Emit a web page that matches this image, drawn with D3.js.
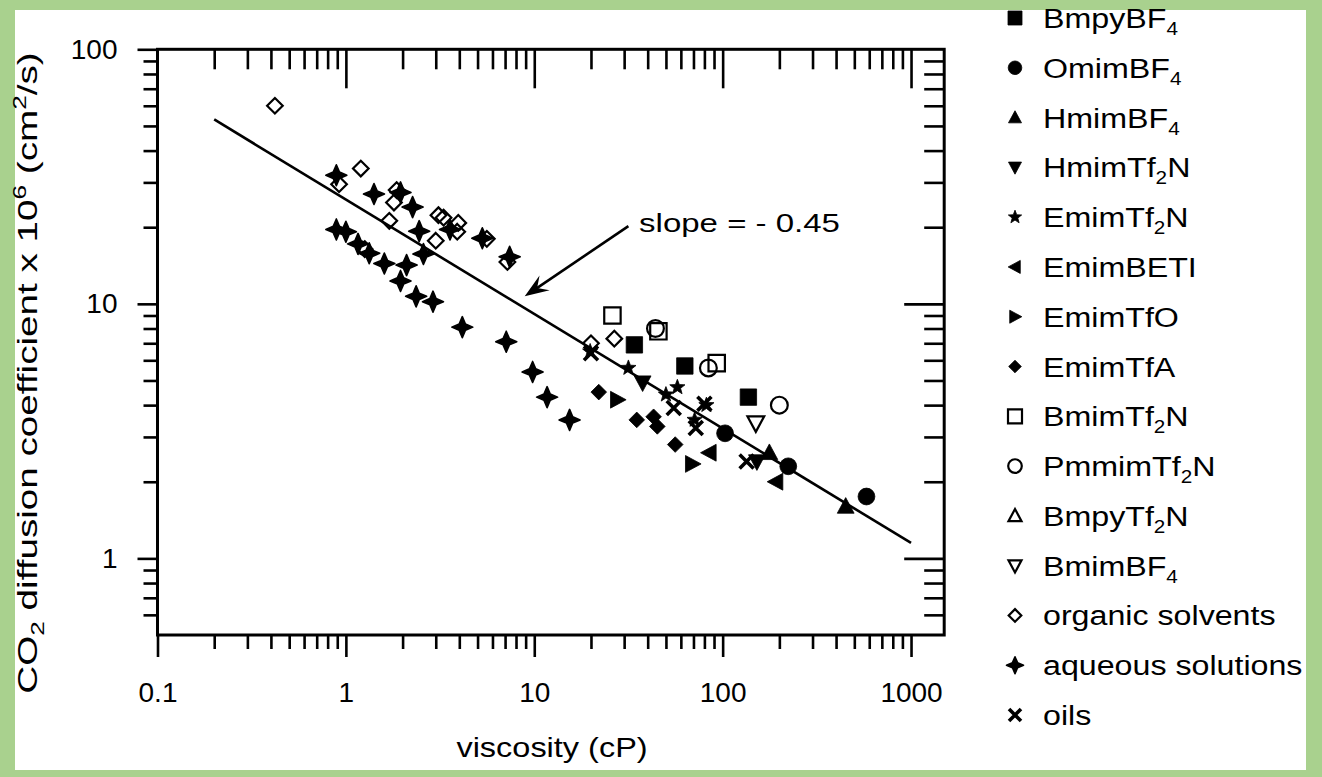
<!DOCTYPE html>
<html><head><meta charset="utf-8">
<script src="https://cdn.jsdelivr.net/npm/d3@7"></script>
<style>
body{margin:0;background:#a9d18e;}
svg{display:block;font-family:"Liberation Sans",Arial,Helvetica,sans-serif;}
</style>
</head><body>
<svg id="chart" width="1322" height="777"></svg>
<script>
// ---------- data ----------
const seriesNames = ["BmpyBF_4","OmimBF_4","HmimBF_4","HmimTf_2N","EmimTf_2N","EmimBETI","EmimTfO","EmimTfA",
  "BmimTf_2N","PmmimTf_2N","BmpyTf_2N","BmimBF_4","organic solvents","aqueous solutions","oils"];
const seriesSymbols = ["square","circle","triUp","triDown","star","triLeft","triRight","diamond",
  "square","circle","triUp","triDown","diamond","sparkle","cross"];
const seriesFilled = [true,true,true,true,true,true,true,true,false,false,false,false,false,true,true];

const bmpyBF4_x = [34, 63, 137];            const bmpyBF4_y = [6.9, 5.7, 4.3];
const omimBF4_x = [103, 223, 580];          const omimBF4_y = [3.1, 2.3, 1.75];
const hmimBF4_x = [177, 450];               const hmimBF4_y = [2.6, 1.6];
const hmimTf2N_x = [37.6, 152];             const hmimTf2N_y = [4.9, 2.4];
const emimTf2N_x = [19.8, 31.6, 57.5, 50, 71, 82];  const emimTf2N_y = [6.5, 5.6, 4.7, 4.4, 3.5, 4.0];
const emimBETI_x = [85, 192];               const emimBETI_y = [2.6, 2.0];
const emimTfO_x = [27.6, 69];               const emimTfO_y = [4.2, 2.35];
const emimTfA_x = [22, 35, 43, 45, 56];     const emimTfA_y = [4.5, 3.5, 3.6, 3.3, 2.8];
const bmimTf2N_x = [26, 45.6, 93];          const bmimTf2N_y = [9.0, 7.8, 5.85];
const pmmimTf2N_x = [44, 84, 200];          const pmmimTf2N_y = [8.0, 5.6, 4.0];
const bmpyTf2N_x = [];                      const bmpyTf2N_y = [];
const bmimBF4_x = [150];                    const bmimBF4_y = [3.4];
const organic_x = [0.42, 1.2, 0.92, 1.86, 1.8, 1.7, 3.1, 3.3, 3.0, 3.95, 3.9, 5.6, 7.2, 20, 26.6, 1.26];
const organic_y = [60, 34, 29.5, 28, 25, 21.2, 22.3, 21.8, 17.7, 20.8, 19.2, 18, 14.6, 7.0, 7.3, 16.4];
const aqueous_x = [0.89, 1.41, 1.95, 2.26, 2.45, 3.57, 5.3, 7.4, 2.58,
  0.89, 1.0, 1.16, 1.33, 1.6, 2.1, 1.95, 2.36, 2.9, 4.15, 7.1, 9.8, 11.7, 15.4];
const aqueous_y = [32, 27, 27.4, 24, 19.3, 19.6, 18.1, 15.3, 15.7,
  19.6, 19.2, 17.2, 15.8, 14.4, 14.2, 12.3, 10.7, 10.2, 8.1, 7.1, 5.4, 4.3, 3.5];
const oils_x = [20, 55, 72, 134, 80];       const oils_y = [6.4, 3.9, 3.25, 2.4, 4.05];

const seriesX = [bmpyBF4_x, omimBF4_x, hmimBF4_x, hmimTf2N_x, emimTf2N_x, emimBETI_x, emimTfO_x, emimTfA_x,
  bmimTf2N_x, pmmimTf2N_x, bmpyTf2N_x, bmimBF4_x, organic_x, aqueous_x, oils_x];
const seriesY = [bmpyBF4_y, omimBF4_y, hmimBF4_y, hmimTf2N_y, emimTf2N_y, emimBETI_y, emimTfO_y, emimTfA_y,
  bmimTf2N_y, pmmimTf2N_y, bmpyTf2N_y, bmimBF4_y, organic_y, aqueous_y, oils_y];

const fitX = [0.2, 1000];
const fitY = [53, 1.15];
const arrowFrom = [31.6, 20.2];
const arrowTo = [8.9, 10.7];
const slopeText = "slope = - 0.45";
const slopeAt = [36, 19.2];

const xMajorTicks = [0.1, 1, 10, 100, 1000];
const xTickLabels = ["0.1", "1", "10", "100", "1000"];
const xMinorTicks = [0.2,0.3,0.4,0.5,0.6,0.7,0.8,0.9, 2,3,4,5,6,7,8,9, 20,30,40,50,60,70,80,90, 200,300,400,500,600,700,800,900];
const yMajorTicks = [1, 10, 100];
const yTickLabels = ["1", "10", "100"];
const yMinorTicks = [0.6,0.7,0.8,0.9, 2,3,4,5,6,7,8,9, 20,30,40,50,60,70,80,90];

// ---------- layout ----------
const svg = d3.select("#chart");
svg.append("rect").attr("x",15).attr("y",10).attr("width",1291).attr("height",760).attr("fill","#ffffff");

const L = 157.5, R = 944.2, T = 49.3, B = 635;
const x = d3.scaleLog().domain([0.1, 1500]).range([L, R]);
const y = d3.scaleLog().domain([0.5, 100]).range([B, T]);

const tickW = 2.6;
function styleAxis(g){
  g.select(".domain").remove();
  g.selectAll("line").attr("stroke","#000").attr("stroke-width",tickW);
  g.selectAll("text").attr("fill","#000").attr("font-size",28).attr("font-family",'"Liberation Sans",Arial,sans-serif');
}
// bottom (outward)
svg.append("g").attr("transform",`translate(0,${B})`)
  .call(d3.axisBottom(x).tickValues(xMajorTicks).tickFormat((d,i)=>xTickLabels[i]).tickSizeInner(22).tickSizeOuter(0).tickPadding(25))
  .call(styleAxis);
svg.append("g").attr("transform",`translate(0,${B})`)
  .call(d3.axisBottom(x).tickValues(xMinorTicks).tickFormat("").tickSizeInner(14).tickSizeOuter(0))
  .call(styleAxis);
// top (inward)
svg.append("g").attr("transform",`translate(0,${T})`)
  .call(d3.axisTop(x).tickValues(xMajorTicks.slice(1)).tickFormat("").tickSizeInner(-39).tickSizeOuter(0))
  .call(styleAxis);
svg.append("g").attr("transform",`translate(0,${T})`)
  .call(d3.axisTop(x).tickValues(xMinorTicks).tickFormat("").tickSizeInner(-20).tickSizeOuter(0))
  .call(styleAxis);
// left (outward)
svg.append("g").attr("transform",`translate(${L},0)`)
  .call(d3.axisLeft(y).tickValues(yMajorTicks).tickFormat((d,i)=>yTickLabels[i]).tickSizeInner(20).tickSizeOuter(0).tickPadding(20))
  .call(styleAxis);
svg.append("g").attr("transform",`translate(${L},0)`)
  .call(d3.axisLeft(y).tickValues(yMinorTicks).tickFormat("").tickSizeInner(14).tickSizeOuter(0))
  .call(styleAxis);
// right (inward)
svg.append("g").attr("transform",`translate(${R},0)`)
  .call(d3.axisRight(y).tickValues(yMajorTicks.slice(0,2)).tickFormat("").tickSizeInner(-40).tickSizeOuter(0))
  .call(styleAxis);
svg.append("g").attr("transform",`translate(${R},0)`)
  .call(d3.axisRight(y).tickValues(yMinorTicks).tickFormat("").tickSizeInner(-20).tickSizeOuter(0))
  .call(styleAxis);
// frame
svg.append("rect").attr("x",L).attr("y",T).attr("width",R-L).attr("height",B-T)
  .attr("fill","none").attr("stroke","#000").attr("stroke-width",3);

// axis titles
svg.append("text").attr("transform",`translate(552,757) scale(1.16,1)`).attr("text-anchor","middle")
  .attr("font-size",28).text("viscosity (cP)");
const yt = svg.append("text").attr("transform",`translate(37,373) rotate(-90) scale(1.38,1)`)
  .attr("text-anchor","middle").attr("font-size",28);
yt.append("tspan").text("CO");
yt.append("tspan").attr("font-size",19).attr("dy",7).text("2");
yt.append("tspan").attr("dy",-7).text(" diffusion coefficient x 10");
yt.append("tspan").attr("font-size",19).attr("dy",-11).text("6");
yt.append("tspan").attr("dy",11).text(" (cm");
yt.append("tspan").attr("font-size",19).attr("dy",-11).text("2");
yt.append("tspan").attr("dy",11).text("/s)");

// ---------- symbols ----------
function symbolPath(type, r){
  switch(type){
    case "square": return `M${-r},${-r}h${2*r}v${2*r}h${-2*r}Z`;
    case "circle": return `M${r},0A${r},${r} 0 1,1 ${-r},0A${r},${r} 0 1,1 ${r},0Z`;
    case "triUp": return `M0,${-r*1.1}L${r*1.05},${r*0.85}L${-r*1.05},${r*0.85}Z`;
    case "triDown": return `M0,${r*1.1}L${r*1.05},${-r*0.85}L${-r*1.05},${-r*0.85}Z`;
    case "triLeft": return `M${-r*1.1},0L${r*0.85},${r*1.05}L${r*0.85},${-r*1.05}Z`;
    case "triRight": return `M${r*1.1},0L${-r*0.85},${r*1.05}L${-r*0.85},${-r*1.05}Z`;
    case "diamond": return `M0,${-r}L${r},0L0,${r}L${-r},0Z`;
    case "star": {
      let p=[]; for(let i=0;i<10;i++){const a=-Math.PI/2+i*Math.PI/5; const rr=i%2?r*0.42:r; p.push([rr*Math.cos(a),rr*Math.sin(a)]);}
      return "M"+p.map(q=>q[0].toFixed(2)+","+q[1].toFixed(2)).join("L")+"Z";
    }
    case "sparkle": {
      const a=r*0.3;
      return `M0,${-r}L${a},${-a}L${r},0L${a},${a}L0,${r}L${-a},${a}L${-r},0L${-a},${-a}Z`;
    }
    case "cross": return `M${-r},${-r}L${r},${r}M${r},${-r}L${-r},${r}`;
  }
}
const plotSize = {square:8.2,circle:8.4,triUp:8,triDown:8,triLeft:8,triRight:8,diamond:7.8,star:8,sparkle:10.5,cross:7};
const legSize = {square:7,circle:6.8,triUp:6.2,triDown:6.2,triLeft:6.2,triRight:6.2,diamond:6.3,star:7,sparkle:8.5,cross:6};
function drawMark(sel, type, filled, r){
  sel.attr("d", symbolPath(type, r));
  if(type==="cross"){ sel.attr("fill","none").attr("stroke","#000").attr("stroke-width",3.6); }
  else if(type==="sparkle"){ sel.attr("fill","#000").attr("stroke","#000").attr("stroke-width",1.6).attr("stroke-linejoin","round"); }
  else if(filled){ sel.attr("fill","#000").attr("stroke","#000").attr("stroke-width",0.8); }
  else { sel.attr("fill","none").attr("stroke","#000").attr("stroke-width",2.2); }
}

// fit line
svg.append("path").datum(fitX.map((v,i)=>[v,fitY[i]]))
  .attr("d", d3.line().x(d=>x(d[0])).y(d=>y(d[1])))
  .attr("fill","none").attr("stroke","#000").attr("stroke-width",2.6);

// points
const plot = svg.append("g");
seriesNames.forEach((name,si)=>{
  const pts = seriesX[si].map((v,i)=>[v, seriesY[si][i]]);
  const type = seriesSymbols[si], filled = seriesFilled[si];
  plot.append("g").selectAll("path").data(pts).join("path")
    .attr("transform", d=>`translate(${x(d[0])},${y(d[1])})`)
    .each(function(){ drawMark(d3.select(this), type, filled, plotSize[type]); });
});

// annotation arrow
{
  const x1=x(arrowFrom[0]), y1=y(arrowFrom[1]), x2=x(arrowTo[0]), y2=y(arrowTo[1]);
  const ang=Math.atan2(y2-y1,x2-x1);
  svg.append("line").attr("x1",x1).attr("y1",y1).attr("x2",x2-Math.cos(ang)*8).attr("y2",y2-Math.sin(ang)*8)
    .attr("stroke","#000").attr("stroke-width",2.6);
  const hl=24, hw=9, notch=9;
  const ux=Math.cos(ang), uy=Math.sin(ang), nx=-uy, ny=ux;
  const bx=x2-ux*hl, by=y2-uy*hl;
  const p=[[x2,y2],[bx+nx*hw,by+ny*hw],[x2-ux*(hl-notch),y2-uy*(hl-notch)],[bx-nx*hw,by-ny*hw]];
  svg.append("path").attr("d","M"+p.map(q=>q.join(",")).join("L")+"Z").attr("fill","#000");
  svg.append("text").attr("transform",`translate(${x(slopeAt[0])},${y(slopeAt[1])}) scale(1.27,1)`)
    .attr("font-size",26).text(slopeText);
}

// legend
const legY = d3.scaleLinear().domain([0, seriesNames.length-1]).range([18, 715]);
const leg = svg.append("g");
seriesNames.forEach((name,i)=>{
  const cy = legY(i);
  const type = seriesSymbols[i];
  leg.append("path").attr("transform",`translate(1015,${cy})`)
    .call(s=>drawMark(s, type, seriesFilled[i], legSize[type]));
  const t = leg.append("text").attr("transform",`translate(1043,${cy+10}) scale(1.15,1)`).attr("font-size",28);
  const parts = name.split("_");
  t.append("tspan").text(parts[0]);
  for(let k=1;k<parts.length;k++){
    t.append("tspan").attr("font-size",18).attr("dy",7).text(parts[k][0]);
    if(parts[k].length>1) t.append("tspan").attr("dy",-7).text(parts[k].slice(1));
  }
});
</script>
</body></html>
